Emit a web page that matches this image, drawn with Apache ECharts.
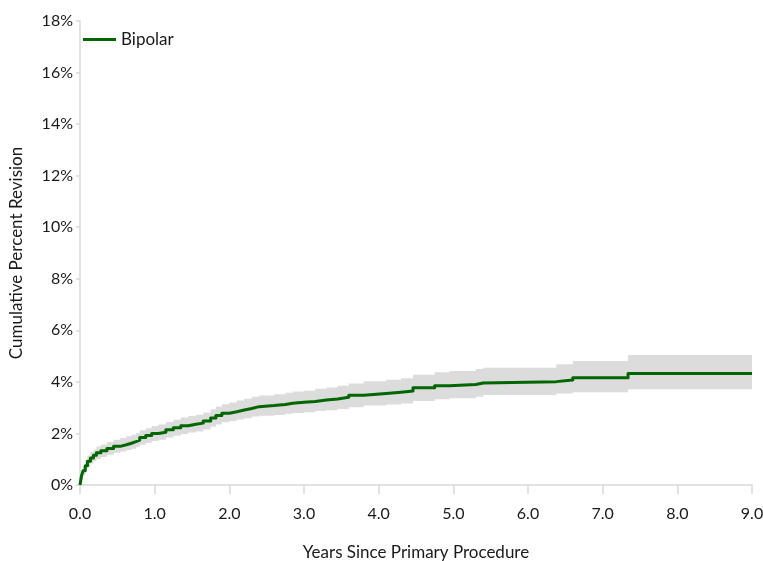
<!DOCTYPE html>
<html>
<head>
<meta charset="utf-8">
<script src="https://cdn.jsdelivr.net/npm/echarts@6/dist/echarts.min.js"></script>
<style>
  html, body { margin: 0; padding: 0; background: #fff; }
  #chart { width: 763px; height: 561px; }
</style>
</head>
<body>
<div id="chart"></div>
<script>
// Kaplan-Meier cumulative percent revision, bipolar prostheses
const years = [0.00, 0.02, 0.04, 0.07, 0.10, 0.14, 0.18, 0.22, 0.28, 0.36, 0.45, 0.54, 0.62, 0.69, 0.75, 0.80, 0.88, 0.96,
  1.05, 1.15, 1.25, 1.35, 1.45, 1.55, 1.65, 1.75, 1.82, 1.90, 2.00, 2.10, 2.20, 2.30, 2.40, 2.60, 2.75, 2.85,
  3.00, 3.15, 3.30, 3.45, 3.60, 3.80, 4.10, 4.30, 4.46, 4.75, 4.95, 5.30, 5.40, 6.38, 6.60, 7.34, 9.00];
const revision = [0.00, 0.35, 0.55, 0.75, 0.92, 1.05, 1.15, 1.25, 1.33, 1.42, 1.50, 1.56, 1.62, 1.68, 1.74, 1.84, 1.92, 2.00,
  2.05, 2.14, 2.22, 2.30, 2.36, 2.40, 2.48, 2.60, 2.70, 2.78, 2.84, 2.91, 2.97, 3.04, 3.08, 3.12, 3.17, 3.21,
  3.24, 3.30, 3.34, 3.40, 3.48, 3.55, 3.60, 3.65, 3.77, 3.85, 3.90, 3.96, 4.01, 4.07, 4.16, 4.33, 4.33];
const lowerCI = [0.00, 0.20, 0.38, 0.55, 0.70, 0.83, 0.92, 1.01, 1.09, 1.17, 1.25, 1.30, 1.36, 1.41, 1.47, 1.56, 1.63, 1.71,
  1.76, 1.84, 1.91, 1.98, 2.04, 2.08, 2.15, 2.26, 2.35, 2.43, 2.48, 2.54, 2.59, 2.66, 2.69, 2.72, 2.76, 2.79,
  2.82, 2.87, 2.90, 2.95, 3.02, 3.08, 3.12, 3.16, 3.26, 3.33, 3.37, 3.42, 3.49, 3.55, 3.60, 3.71, 3.71];
const upperCI = [0.00, 0.50, 0.72, 0.95, 1.14, 1.28, 1.38, 1.49, 1.57, 1.67, 1.76, 1.82, 1.89, 1.95, 2.02, 2.12, 2.20, 2.29,
  2.35, 2.44, 2.53, 2.62, 2.68, 2.73, 2.81, 2.94, 3.05, 3.13, 3.20, 3.28, 3.35, 3.42, 3.47, 3.52, 3.58, 3.63,
  3.66, 3.73, 3.78, 3.85, 3.94, 4.02, 4.08, 4.14, 4.28, 4.37, 4.42, 4.50, 4.55, 4.68, 4.81, 5.04, 5.04];

const seriesName = 'Bipolar';
const lineColor = '#006600';
const bandColor = '#dcdcdc';
const axisColor = '#d9d9d9';
const textColor = '#1a1a1a';
const fontFamily = 'Lato, "Open Sans", sans-serif';

const lineData = years.map((x, i) => [x, revision[i]]);

// Confidence band drawn as one stepped polygon: upper bound forward, lower bound back.
function renderBand(params, api) {
  const pts = [];
  for (let i = 0; i < years.length; i++) {
    pts.push(api.coord([years[i], upperCI[i]]));
    if (i + 1 < years.length) pts.push(api.coord([years[i + 1], upperCI[i]]));
  }
  for (let i = years.length - 1; i >= 0; i--) {
    if (i + 1 < years.length) pts.push(api.coord([years[i + 1], lowerCI[i]]));
    pts.push(api.coord([years[i], lowerCI[i]]));
  }
  return {
    type: 'polygon',
    shape: { points: pts },
    style: { fill: bandColor, stroke: null }
  };
}

const chart = echarts.init(document.getElementById('chart'), null, { renderer: 'canvas' });
chart.setOption({
  animation: false,
  backgroundColor: '#ffffff',
  textStyle: { fontFamily: fontFamily, color: textColor },
  grid: { left: 80, right: 11, top: 21, bottom: 76, containLabel: false, outerBoundsMode: 'none' },
  legend: {
    data: [{ name: seriesName, icon: 'rect' }],
    left: 78,
    top: 26,
    itemWidth: 33,
    itemHeight: 3,
    itemGap: 10,
    textStyle: { fontFamily: fontFamily, fontSize: 17, color: textColor }
  },
  xAxis: {
    type: 'value',
    min: 0,
    max: 9,
    interval: 1,
    name: 'Years Since Primary Procedure',
    nameLocation: 'middle',
    nameGap: 59,
    nameTextStyle: { fontFamily: fontFamily, fontSize: 17, color: textColor },
    axisLine: { show: true, lineStyle: { color: axisColor, width: 1.5 } },
    axisTick: { show: true, length: 9, lineStyle: { color: axisColor, width: 1.5 } },
    axisLabel: {
      margin: 21,
      fontSize: 16,
      color: textColor,
      fontFamily: fontFamily,
      formatter: v => v.toFixed(1)
    },
    splitLine: { show: false }
  },
  yAxis: {
    type: 'value',
    min: 0,
    max: 18,
    interval: 2,
    name: 'Cumulative Percent Revision',
    nameLocation: 'middle',
    nameGap: 55,
    nameRotate: 90,
    nameTextStyle: { fontFamily: fontFamily, fontSize: 17, color: textColor },
    axisLine: { show: true, lineStyle: { color: axisColor, width: 1.5 } },
    axisTick: { show: true, length: 4, lineStyle: { color: axisColor, width: 1.5 } },
    axisLabel: {
      margin: 7,
      fontSize: 16,
      color: textColor,
      fontFamily: fontFamily,
      formatter: v => v + '%'
    },
    splitLine: { show: false }
  },
  series: [
    {
      name: 'ci',
      type: 'custom',
      renderItem: renderBand,
      data: [[0, 0]],
      silent: true,
      z: 1
    },
    {
      name: seriesName,
      type: 'line',
      step: 'end',
      data: lineData,
      symbol: 'none',
      color: lineColor,
      lineStyle: { color: lineColor, width: 3, join: 'round' },
      z: 3
    }
  ]
});
</script>
</body>
</html>
